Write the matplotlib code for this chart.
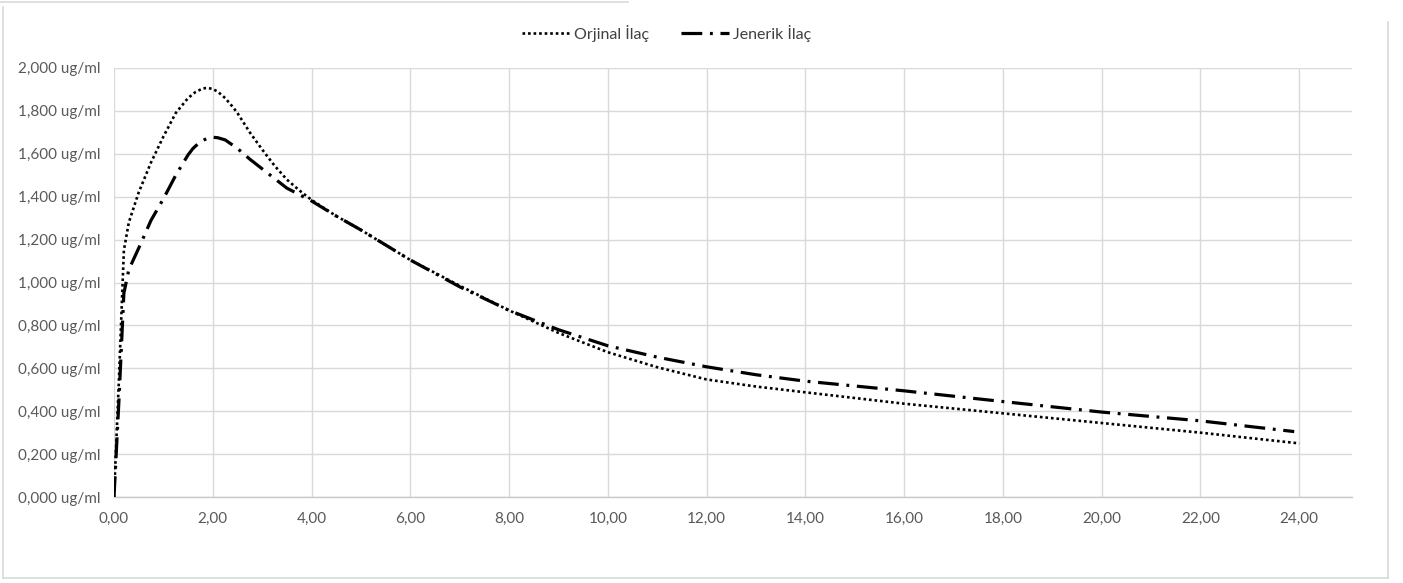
import matplotlib
matplotlib.use("Agg")
import matplotlib.pyplot as plt
from matplotlib.lines import Line2D
from matplotlib.ticker import FuncFormatter

# ---- data ----
t_orj = [0, 0.1, 0.2, 0.3, 0.4, 0.5, 0.75, 1.0, 1.25, 1.5, 1.65, 1.8, 1.9, 2.0,
         2.1, 2.25, 2.4, 2.5, 2.75, 3.0, 3.25, 3.5, 3.75, 4, 4.5, 5, 6, 7, 8, 9,
         10, 11, 12, 13, 14, 16, 18, 20, 22, 24]
orjinal = [0, 0.55, 1.15, 1.28, 1.35, 1.42, 1.56, 1.68, 1.79, 1.86, 1.888, 1.905,
           1.907, 1.902, 1.89, 1.86, 1.82, 1.79, 1.70, 1.62, 1.545, 1.48, 1.43,
           1.385, 1.31, 1.245, 1.105, 0.985, 0.87, 0.765, 0.675, 0.605, 0.548,
           0.515, 0.488, 0.435, 0.39, 0.345, 0.30, 0.25]

t_jen = [0, 0.1, 0.2, 0.3, 0.4, 0.5, 0.75, 1.0, 1.25, 1.5, 1.6, 1.75, 1.9, 2.0,
         2.1, 2.25, 2.5, 2.75, 3.0, 3.5, 4, 4.5, 5, 6, 7, 8, 9, 10, 11, 12, 13,
         14, 16, 18, 20, 22, 23.9]
jenerik = [0, 0.45, 0.95, 1.06, 1.11, 1.16, 1.29, 1.39, 1.50, 1.595, 1.625, 1.657,
           1.673, 1.677, 1.675, 1.665, 1.625, 1.575, 1.53, 1.44, 1.38, 1.31, 1.245,
           1.105, 0.98, 0.87, 0.78, 0.705, 0.652, 0.607, 0.57, 0.54, 0.495, 0.445,
           0.396, 0.355, 0.305]

series_labels = ["Orjinal İlaç", "Jenerik İlaç"]
x_ticks = [0, 2, 4, 6, 8, 10, 12, 14, 16, 18, 20, 22, 24]
y_ticks = [0.0, 0.2, 0.4, 0.6, 0.8, 1.0, 1.2, 1.4, 1.6, 1.8, 2.0]

W, H = 1403, 583
fig = plt.figure(figsize=(W / 100, H / 100), dpi=100)
plt.rcParams['font.family'] = ['Lato', 'DejaVu Sans']

ax = fig.add_axes([114 / W, 1 - 497 / H, (1352 - 114) / W, (497 - 68) / H])
ax.set_xlim(0, 25.07)
ax.set_ylim(0, 2.0)

ax.plot(t_orj, orjinal, color="black", lw=1.9, linestyle=(0, (1, 1.1)),
        dash_capstyle="butt", solid_joinstyle="round", label=series_labels[0], zorder=3)
ax.plot(t_jen, jenerik, color="black", lw=2.3, linestyle=(0, (6.5, 2.4, 0.9, 2.4)),
        label=series_labels[1], zorder=3)

ax.set_xticks(x_ticks)
ax.set_yticks(y_ticks)
ax.xaxis.set_major_formatter(FuncFormatter(lambda v, p: f"{v:.2f}".replace(".", ",")))
ax.yaxis.set_major_formatter(FuncFormatter(lambda v, p: f"{v:.3f}".replace(".", ",") + " ug/ml"))
ax.grid(True, color="#d9d9d9", lw=1.0)
ax.set_axisbelow(True)
for s in ["top", "right", "left"]:
    ax.spines[s].set_visible(False)
ax.spines["bottom"].set_color("#c8c8c8")
ax.spines["bottom"].set_linewidth(1.0)
ax.tick_params(axis="both", length=0, colors="#595959", labelsize=11)
ax.tick_params(axis="x", pad=11)
ax.tick_params(axis="y", pad=10)

leg = fig.legend(loc="center", bbox_to_anchor=(667 / W, 1 - 33 / H), ncol=2,
                 frameon=False, fontsize=11.5, handlelength=3.0, columnspacing=2.0,
                 handletextpad=0.25)
for txt in leg.get_texts():
    txt.set_color("#404040")

# outer chart border (partial, as in the screenshot)
bc = "#d9d9d9"
def pline(x0, y0, x1, y1):
    fig.add_artist(Line2D([x0 / W, x1 / W], [1 - y0 / H, 1 - y1 / H], color=bc, lw=1.2,
                          transform=fig.transFigure))
pline(0, 2, 628, 2)
pline(3, 7, 3, 578)
pline(3, 578, 1388, 578)
pline(1388, 22, 1388, 578)

fig.savefig("out.png", dpi=100)
